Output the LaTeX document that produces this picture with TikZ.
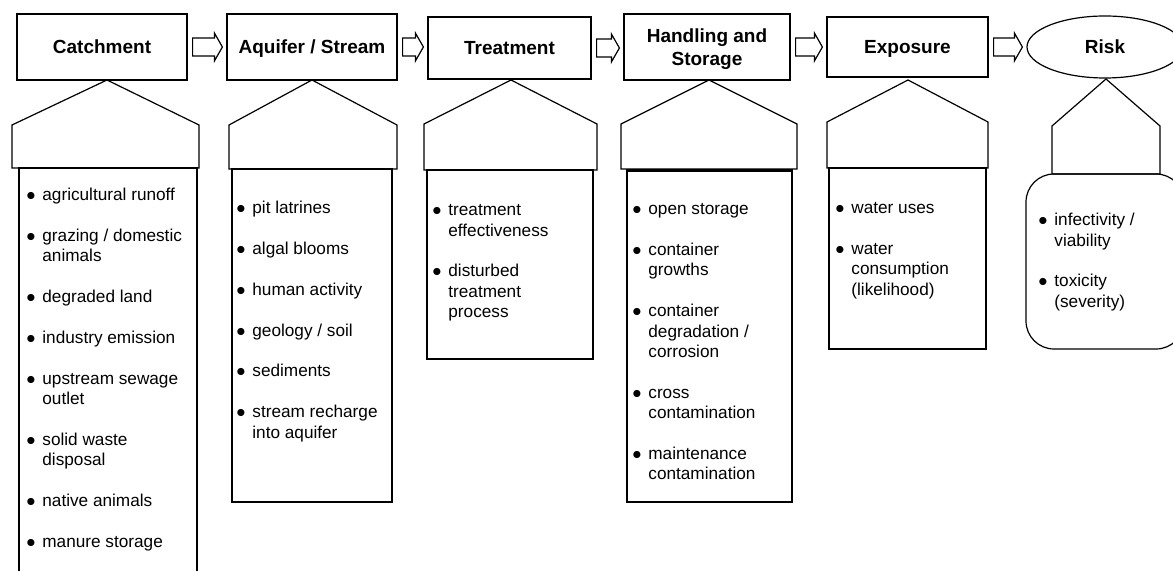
\documentclass[tikz,border=0pt]{standalone}
\usepackage{fontspec}
\setmainfont{Liberation Sans}
\usetikzlibrary{shapes.geometric,calc}

\tikzset{
  stage/.style={draw, line width=0.6pt, inner sep=0pt, align=center, text depth=0pt,
    font=\bfseries\fontsize{9.5}{11.5}\selectfont},
  roof/.style={draw, line width=0.6pt},
  listbox/.style={draw, line width=0.6pt},
  itemlist/.style={anchor=north west, inner sep=0pt, align=left,
    font=\fontsize{8.6}{10.2}\selectfont},
  flow/.style={draw, line width=0.6pt, fill=white},
}
\newcommand{\dotitem}{\strut\makebox[8pt][l]{$\bullet$}}
\newcommand{\dotcont}{\strut\hspace*{8pt}}
\newcommand{\itemgap}{10.2pt}
% hollow block arrow between two stages
\newcommand{\flowarrow}[2]{%
  \draw[flow] let \p1=($(#1.east)+(2.5pt,0)$), \p2=($(#2.west)+(-2pt,0)$) in
    (\x1,\y1+4.5pt) -- (\x2-4pt,\y1+4.5pt) -- (\x2-4pt,\y1+7pt) -- (\x2,\y1)
    -- (\x2-4pt,\y1-7pt) -- (\x2-4pt,\y1-4.5pt) -- (\x1,\y1-4.5pt) -- cycle;}

\begin{document}
\begin{tikzpicture}[x=0.5pt,y=-0.5pt]
  \useasboundingbox (0,0) rectangle (1173,571);
  \clip (0,0) rectangle (1173,571);
  % stages
  \node[stage, minimum width=85pt, minimum height=33pt] (catch) at (102,47) {Catchment};
  \node[stage, minimum width=85pt, minimum height=33pt] (aquif) at (312,47) {Aquifer / Stream};
  \node[stage, minimum width=81.5pt, minimum height=31pt] (treat) at (509.5,48) {Treatment};
  \node[stage, minimum width=83pt, minimum height=33pt] (handl) at (707,47) {Handling and\\Storage};
  \node[stage, minimum width=80.5pt, minimum height=30pt] (expos) at (907.5,47) {Exposure};
  \node[stage, ellipse, minimum width=78pt, minimum height=31pt] (risk) at (1105,47) {Risk};
  \flowarrow{catch}{aquif}
  \flowarrow{aquif}{treat}
  \flowarrow{treat}{handl}
  \flowarrow{handl}{expos}
  \flowarrow{expos}{risk}
  % roofs
  \draw[roof] (107,80) -- (199,125) -- (199,168) -- (12,168) -- (12,125) -- cycle;
  \draw[roof] (312,80) -- (397,125) -- (397,169) -- (229,169) -- (229,125) -- cycle;
  \draw[roof] (511,80) -- (597,124) -- (597,170) -- (424,170) -- (424,124) -- cycle;
  \draw[roof] (709,80) -- (797,124) -- (797,169) -- (621,169) -- (621,124) -- cycle;
  \draw[roof] (908,80) -- (988,122) -- (988,168) -- (827,168) -- (827,122) -- cycle;
  \draw[roof] (1106,79) -- (1160,126) -- (1160,174) -- (1052,174) -- (1052,126) -- cycle;
  % list boxes
  \draw[listbox] (19,600) -- (19,168) -- (197,168) -- (197,600);
  \draw[listbox] (232,169) rectangle (392,502);
  \draw[listbox] (427,170) rectangle (593,359);
  \draw[listbox] (627,170) rectangle (792,502);
  \draw[line width=1.2pt] (627,171) -- (792,171);
  \draw[listbox] (829,168) rectangle (986,349);
  \draw[listbox, rounded corners=14pt] (1026,174) rectangle (1184,349);
  % items
  \node[itemlist] (catchlist) at (26,186) {\dotitem agricultural runoff\\[\itemgap]
    \dotitem grazing / domestic\\\dotcont animals\\[\itemgap]
    \dotitem degraded land\\[\itemgap]
    \dotitem industry emission\\[\itemgap]
    \dotitem upstream sewage\\\dotcont outlet\\[\itemgap]
    \dotitem solid waste\\\dotcont disposal\\[\itemgap]
    \dotitem native animals\\[\itemgap]
    \dotitem manure storage};
  \node[itemlist] (aquiflist) at (236,199) {\dotitem pit latrines\\[\itemgap]
    \dotitem algal blooms\\[\itemgap]
    \dotitem human activity\\[\itemgap]
    \dotitem geology / soil\\[\itemgap]
    \dotitem sediments\\[\itemgap]
    \dotitem stream recharge\\\dotcont into aquifer};
  \node[itemlist] (treatlist) at (432,201) {\dotitem treatment\\\dotcont effectiveness\\[\itemgap]
    \dotitem disturbed\\\dotcont treatment\\\dotcont process};
  \node[itemlist] (handllist) at (632,200) {\dotitem open storage\\[\itemgap]
    \dotitem container\\\dotcont growths\\[\itemgap]
    \dotitem container\\\dotcont degradation /\\\dotcont corrosion\\[\itemgap]
    \dotitem cross\\\dotcont contamination\\[\itemgap]
    \dotitem maintenance\\\dotcont contamination};
  \node[itemlist] (exposlist) at (835,199) {\dotitem water uses\\[\itemgap]
    \dotitem water\\\dotcont consumption\\\dotcont (likelihood)};
  \node[itemlist] (risklist) at (1038,211) {\dotitem infectivity /\\\dotcont viability\\[\itemgap]
    \dotitem toxicity\\\dotcont (severity)};
\end{tikzpicture}
\end{document}
